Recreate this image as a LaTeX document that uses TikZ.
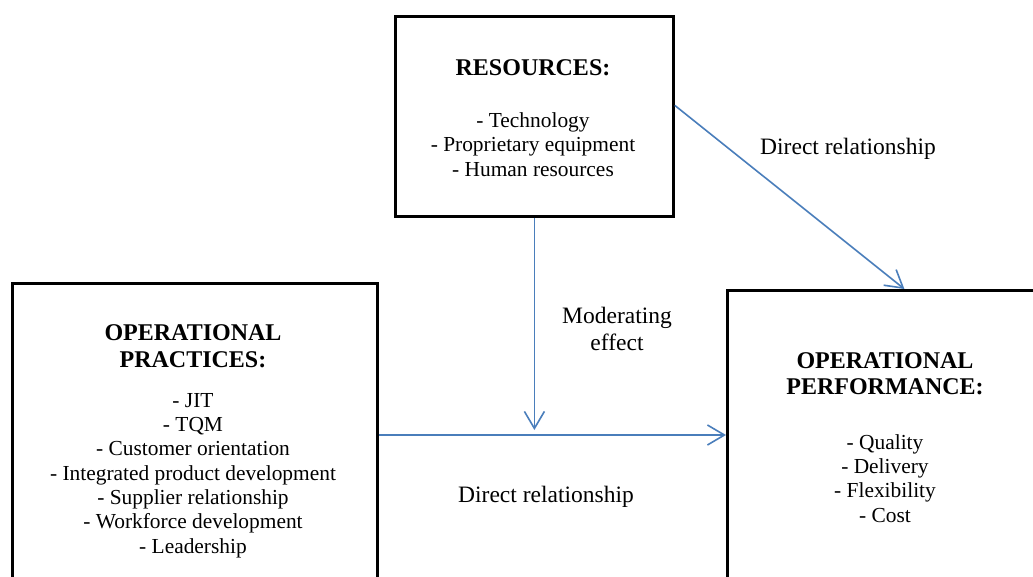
\documentclass[tikz,border=0pt]{standalone}
\usepackage{fontspec}
\setmainfont{Liberation Serif}
\usetikzlibrary{arrows.meta}
\definecolor{linkblue}{HTML}{4A7EBB}
\tikzset{
  box/.style={draw=black, line width=2.8pt, rectangle, inner sep=0pt, anchor=north west},
  title/.style={font=\fontsize{24}{26.5}\selectfont\bfseries, align=center, inner sep=0pt},
  items/.style={font=\fontsize{21.4}{24.3}\selectfont, align=center, inner sep=0pt},
  lbl/.style={font=\fontsize{23.5}{27.5}\selectfont, align=center, inner sep=0pt},
  conn/.style={draw=linkblue, line width=1.6pt, -{Straight Barb[length=17pt,width=20pt,line width=1.6pt]}},
}
\begin{document}
\begin{tikzpicture}[x=1pt,y=-1pt]
  \useasboundingbox (0,0) rectangle (1033,576);
  \clip (0,0) rectangle (1033,576);
  \fill[white] (0,0) rectangle (1033,576);

  % the three boxes
  \node[box, minimum width=278pt, minimum height=200pt] (res) at (394,15) {};
  \node[box, minimum width=365pt, minimum height=340pt] (prac) at (11,282) {};
  \node[box, minimum width=318pt, minimum height=330pt] (perf) at (726,289) {};

  % box contents
  \node[title] (resT) at (533,68) {RESOURCES:};
  \node[items] (resL) at (533,144.5) {- Technology\\- Proprietary equipment\\- Human resources};

  \node[title] (pracT) at (193,346) {OPERATIONAL\\PRACTICES:};
  \node[items] (pracL) at (193,475.5) {- JIT\\- TQM\\- Customer orientation\\- Integrated product development\\- Supplier relationship\\- Workforce development\\- Leadership};

  \node[title] (perfT) at (885,373.5) {OPERATIONAL\\PERFORMANCE:};
  \node[items] (perfL) at (885,478.5) {- Quality\\- Delivery\\- Flexibility\\- Cost};

  % connector labels
  \node[lbl] (dirTop) at (848,149) {Direct relationship};
  \node[lbl] (moder) at (617,329) {Moderating\\effect};
  \node[lbl] (dirBot) at (546,497) {Direct relationship};

  % connectors
  \coordinate (hline) at (0,435);
  \coordinate (vtip) at (0,430);
  \draw[conn] ([yshift=11pt]res.east) -- ([xshift=18pt]perf.north);
  \draw[conn] (res.south) -- (res.south |- vtip);
  \draw[conn] (prac.east |- hline) -- (perf.west |- hline);
\end{tikzpicture}
\end{document}
